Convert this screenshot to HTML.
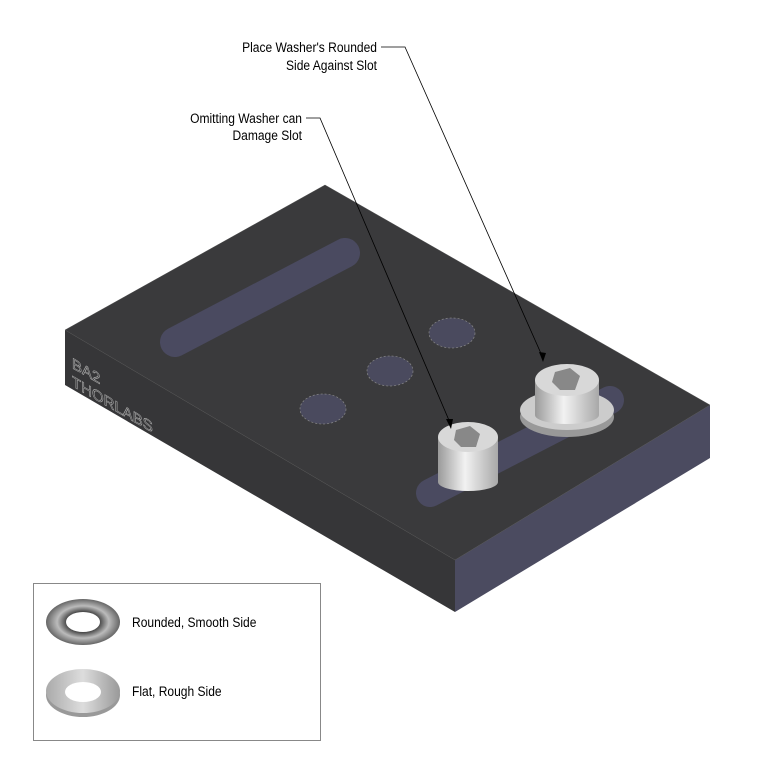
<!DOCTYPE html>
<html><head><style>
body{margin:0;background:#fff;}
svg{display:block;font-family:"Liberation Sans",sans-serif;}
</style></head><body>
<svg width="780" height="780" viewBox="0 0 780 780">
<defs>
<linearGradient id="cyl" x1="0" x2="1" y1="0" y2="0">
<stop offset="0" stop-color="#9a9a9a"/><stop offset="0.45" stop-color="#f2f2f2"/><stop offset="1" stop-color="#a8a8a8"/>
</linearGradient>
<radialGradient id="tor" cx="0.5" cy="0.5" r="0.5">
<stop offset="0.4" stop-color="#333"/><stop offset="0.7" stop-color="#bbb"/><stop offset="1" stop-color="#666"/>
</radialGradient>
<linearGradient id="flat" x1="0" x2="1"><stop offset="0" stop-color="#aaa"/><stop offset="0.5" stop-color="#ddd"/><stop offset="1" stop-color="#999"/></linearGradient>
</defs>
<polygon points="65,330 455,560 455,612 65,385" fill="#363638"/>
<polygon points="455,560 710,405 710,458 455,612" fill="#4b4b60"/>
<polygon points="325,185 710,405 455,560 65,330" fill="#3a3a3c" stroke="#555" stroke-width="0.5"/>
<line x1="175" y1="342" x2="345" y2="253" stroke="#4a4a60" stroke-width="30" stroke-linecap="round"/>
<line x1="430" y1="493" x2="610" y2="400" stroke="#4a4a60" stroke-width="28" stroke-linecap="round"/>
<ellipse cx="452" cy="333" rx="23" ry="15" fill="#4a4a5e" stroke="#888" stroke-dasharray="2,2" stroke-width="0.7"/>
<ellipse cx="390" cy="371" rx="23" ry="15" fill="#4a4a5e" stroke="#888" stroke-dasharray="2,2" stroke-width="0.7"/>
<ellipse cx="323" cy="409" rx="23" ry="15" fill="#4a4a5e" stroke="#888" stroke-dasharray="2,2" stroke-width="0.7"/>
<g transform="translate(72,368) skewY(30)" fill="none" stroke="#aaa" stroke-width="0.6" font-size="15">
<text x="0" y="0">BA2</text><text x="0" y="18">THORLABS</text></g>
<ellipse cx="567" cy="417" rx="47" ry="20" fill="#999"/>
<ellipse cx="567" cy="410" rx="47" ry="20" fill="#ccc"/>
<rect x="535" y="380" width="64" height="35" fill="url(#cyl)"/>
<ellipse cx="567" cy="415" rx="32" ry="9" fill="url(#cyl)"/>
<ellipse cx="567" cy="380" rx="32" ry="16" fill="#d8d8d8"/>
<polygon points="555,372 570,368 580,376 575,390 560,390 552,382" fill="#888"/>
<rect x="438" y="437" width="60" height="45" fill="url(#cyl)"/>
<ellipse cx="468" cy="482" rx="30" ry="9" fill="url(#cyl)"/>
<ellipse cx="468" cy="437" rx="30" ry="15" fill="#d8d8d8"/>
<polygon points="456,430 470,426 480,434 476,447 461,447 454,440" fill="#888"/>
<g stroke="#000" stroke-width="0.8" fill="none">
<polyline points="381,47 405,47 543,358"/>
<polyline points="306,118 320,118 451,425"/>
</g>
<polygon points="543,362 539,352 546,353" fill="#000"/>
<polygon points="451,429 446,419 453,419" fill="#000"/>
<g font-size="14" text-anchor="end" fill="#000" transform="translate(377,0) scale(0.86,1)">
<text x="0" y="52">Place Washer's Rounded</text>
<text x="0" y="70">Side Against Slot</text>
</g>
<g font-size="14" text-anchor="end" fill="#000" transform="translate(302,0) scale(0.86,1)">
<text x="0" y="123">Omitting Washer can</text>
<text x="0" y="140">Damage Slot</text>
</g>
<rect x="33.5" y="583.5" width="287" height="157" fill="#fff" stroke="#888"/>
<ellipse cx="83" cy="622" rx="37" ry="23" fill="url(#tor)"/>
<ellipse cx="83" cy="622" rx="17" ry="10" fill="#fff"/>
<ellipse cx="83" cy="695" rx="37" ry="22" fill="#999"/>
<ellipse cx="83" cy="691" rx="37" ry="22" fill="url(#flat)"/>
<ellipse cx="83" cy="692" rx="18" ry="10" fill="#fff"/>
<g font-size="14" transform="translate(132,0) scale(0.86,1)">
<text x="0" y="627">Rounded, Smooth Side</text>
<text x="0" y="696">Flat, Rough Side</text>
</g>
</svg>
</body></html>
